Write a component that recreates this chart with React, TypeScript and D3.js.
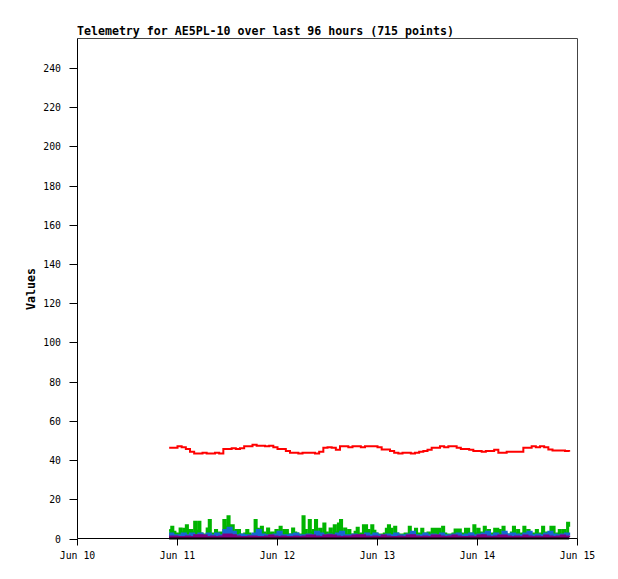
import React, { useEffect, useRef } from "react";
import * as d3 from "d3";

const W = 618;
const H = 579;

// plot frame (pixels)
const left = 77.5;
const right = 577.5;
const top = 38.5;
const bottom = 538.5;

const titleText = "Telemetry for AE5PL-10 over last 96 hours (715 points)";
const yLabel = "Values";
const yTicks = [0, 20, 40, 60, 80, 100, 120, 140, 160, 180, 200, 220, 240];
const xTickDays = [10, 11, 12, 13, 14, 15];

// samples start Jun 10 22:00, hourly (red, blue, purple) and half-hourly (green)
const startHour = 22;

const redValues = [
  46.3, 46.3, 47.1, 46.5, 45.6, 44.2, 43.4, 43.4, 43.7, 43.4, 43.4, 43.7, 43.4,
  45.6, 45.6, 46, 45.6, 46, 47.1, 47.1, 47.8, 47.3, 47.3, 47.1, 47.3, 46.5,
  45.6, 45.6, 44.6, 43.7, 43.7, 43.4, 43.7, 43.7, 43.7, 43.4, 44.2, 46.3, 46.5,
  46.3, 45.2, 47, 47.1, 46.5, 47.1, 47, 46.5, 47.1, 47.1, 47.1, 46.5, 45.4,
  45.4, 44.6, 43.7, 43.4, 43.7, 43.7, 43.4, 43.7, 44.2, 44.6, 45.2, 46.3, 46.3,
  47.1, 46.5, 47.1, 47.1, 46.3, 45.7, 45.7, 45.2, 44.6, 44.6, 44.2, 44.6, 44.6,
  45.2, 43.7, 43.7, 44.2, 44.2, 44.2, 44.2, 46.3, 46.3, 47.1, 46.5, 47.1, 46.5,
  45.4, 44.9, 44.9, 44.9, 44.6, 44.2,
];

const greenValues = [
  4.3, 6, 3.4, 2.5, 2, 5.1, 3, 5, 6.8, 4.3, 4.3, 3, 8.5, 4, 8.5, 2.5, 2, 1.5,
  5.1, 9.4, 2, 2.5, 4.3, 2, 3, 1.5, 9.4, 6, 11.4, 6.8, 6.8, 2.5, 4.3, 4.3, 2,
  1.5, 2.5, 4.3, 2.5, 1.5, 2, 9.4, 5, 2.5, 6, 3, 2, 5.1, 2.5, 3, 2, 4.3, 2.5,
  6, 2, 4.3, 4.3, 2, 2, 5.1, 3, 2.5, 1.5, 2, 11.4, 4.3, 2, 9.4, 3, 4.3, 9.4,
  3, 5, 2, 7.7, 3, 2, 5.1, 2.5, 6.8, 3, 7.7, 9.4, 3, 5.1, 2, 4.3, 2, 1.5, 3.4,
  5.5, 2, 2.5, 6.8, 6.8, 4.3, 2, 6.8, 4, 2.5, 2, 1.5, 2, 2.5, 5, 6.8, 5, 2, 6,
  2.5, 2, 1.5, 2, 2.5, 2, 6, 3, 2, 5, 2.5, 2, 5, 2.5, 2, 3, 2, 5, 5, 5, 5, 2.5,
  6, 2.5, 2, 1.5, 2, 2.5, 4.6, 4.6, 4.6, 2.5, 2, 5, 5, 2.5, 2, 6.8, 2.5, 5, 3,
  2.5, 6, 2, 4.3, 2, 2.5, 5, 5, 4.3, 2, 6, 2.5, 2, 2, 3, 6, 2.5, 4.3, 2, 2.5,
  6, 2.5, 4.3, 2, 2.5, 2, 4.3, 2, 2.5, 6, 2, 3, 2.5, 6, 6, 2, 2.5, 4.3, 2, 4.3,
  2.5, 8, 6,
];

const blueValues = [
  2.5, 1.7, 1.7, 2.5, 1.7, 2.5, 1.7, 2.5, 1.7, 2.5, 1.7, 2.5, 1.7, 4.3, 5.5,
  3.4, 1.7, 2, 1.7, 1.5, 2.5, 4.3, 2, 1.7, 1.7, 2, 3.4, 1.7, 1.7, 2, 2.5, 1.7,
  1.7, 2, 1.7, 3.4, 2.5, 1.7, 2, 1.7, 2.5, 3.4, 1.7, 1.7, 2, 1.7, 1.7, 2.5,
  1.7, 2.5, 1.7, 1.7, 2, 1.7, 2.5, 1.7, 1.7, 2, 3.4, 1.7, 1.7, 2.5, 1.7, 2,
  1.7, 2.5, 1.7, 1.7, 2, 2.5, 1.7, 2, 2.5, 1.7, 2, 2.5, 3.4, 1.7, 2.5, 1.7,
  3.4, 2, 2.5, 2, 1.7, 2.5, 3.4, 1.7, 2, 1.7, 2.5, 3.4, 2, 1.7, 2, 2.5, 1.7,
];

const purpleValues = [
  1, 1, 0.8, 0.8, 1, 0.8, 1.7, 1.7, 1.5, 0.8, 1, 0.8, 1, 2, 2, 1.7, 1, 0.8,
  0.8, 1, 1, 0.8, 0.8, 1, 1.5, 1, 0.8, 1, 0.8, 0.8, 1, 0.8, 1, 1.5, 1.5, 1,
  0.8, 1.5, 1.7, 1.5, 1, 0.8, 1, 1, 1.5, 1.7, 1.7, 1, 0.8, 1, 0.8, 1.5, 1, 0.8,
  0.8, 1, 0.8, 1.5, 1.7, 1, 0.8, 1, 0.8, 1.5, 1.5, 1, 0.8, 1, 1.5, 1, 0.8, 0.8,
  1, 0.8, 1.5, 1.7, 1, 0.8, 1, 1.5, 1.5, 1, 0.8, 1, 0.8, 1.5, 1, 0.8, 1, 0.8,
  1.5, 1, 0.8, 1, 1.5, 1, 0.8,
];

const blackValues = [0, 0];

const day = (d: number, h = 0) => new Date(Date.UTC(2024, 5, d, h));

const seriesTimes = (n: number, stepMin: number) =>
  d3.range(n).map((i) => new Date(day(10, startHour).getTime() + i * stepMin * 60000));

function Chart() {
  const ref = useRef<SVGSVGElement>(null);

  useEffect(() => {
    const svg = d3.select(ref.current);
    svg.selectAll("*").remove();

    const x = d3
      .scaleUtc()
      .domain([day(10), day(15)])
      .range([left, right]);
    const y = d3.scaleLinear().domain([0, 255]).range([bottom, top]);

    svg.append("rect").attr("width", W).attr("height", H).attr("fill", "#fff");

    // frame: top / right grey
    svg
      .append("path")
      .attr("d", `M${left},${top}H${right}V${bottom}`)
      .attr("fill", "none")
      .attr("stroke", "#444")
      .attr("stroke-width", 1);

    const mono = "'DejaVu Sans Mono', 'Liberation Mono', monospace";

    // title
    svg
      .append("text")
      .attr("x", 77)
      .attr("y", 35)
      .text(titleText)
      .style("font-family", mono)
      .style("font-weight", "bold")
      .style("font-size", "11.6px")
      .attr("fill", "#000");

    // y label
    svg
      .append("text")
      .attr("transform", "translate(35,289) rotate(-90)")
      .attr("text-anchor", "middle")
      .text(yLabel)
      .style("font-family", mono)
      .style("font-weight", "bold")
      .style("font-size", "11.6px");

    // y axis ticks
    const yg = svg.append("g");
    yTicks.forEach((v) => {
      yg.append("line")
        .attr("x1", left - 8)
        .attr("x2", left)
        .attr("y1", Math.round(y(v)) + 0.5)
        .attr("y2", Math.round(y(v)) + 0.5)
        .attr("stroke", "#000");
      yg.append("text")
        .attr("x", 61)
        .attr("y", Math.round(y(v)) + 0.5)
        .attr("dy", "0.35em")
        .attr("text-anchor", "end")
        .text(v)
        .style("font-family", mono)
        .style("font-size", "9.8px");
    });

    // x axis ticks
    const fmt = d3.utcFormat("%b %d");
    const xg = svg.append("g");
    xTickDays.forEach((d) => {
      const px = x(day(d));
      xg.append("line")
        .attr("x1", px)
        .attr("x2", px)
        .attr("y1", bottom)
        .attr("y2", bottom + 7)
        .attr("stroke", "#000");
      xg.append("text")
        .attr("x", px)
        .attr("y", 559)
        .attr("text-anchor", "middle")
        .text(fmt(day(d)))
        .style("font-family", mono)
        .style("font-size", "9.8px");
    });

    const hourly = seriesTimes(redValues.length, 60);
    const halfHourly = seriesTimes(greenValues.length, 30);
    const blackTimes = [hourly[0], hourly[hourly.length - 1]];

    // low series are dense enough to read as filled columns
    const series: { t: Date[]; v: number[]; color: string; fill: boolean }[] = [
      { t: hourly, v: redValues, color: "#ff0000", fill: false },
      { t: halfHourly, v: greenValues, color: "#00b400", fill: true },
      { t: hourly, v: blueValues, color: "#1468d2", fill: true },
      { t: hourly, v: purpleValues, color: "#80007f", fill: true },
      { t: blackTimes, v: blackValues, color: "#000", fill: false },
    ];

    series.forEach((s) => {
      if (s.fill) {
        const area = d3
          .area<number>()
          .x((_, i) => x(s.t[i]))
          .y0(y(0))
          .y1((d) => y(d))
          .curve(d3.curveStepAfter);
        svg.append("path").attr("d", area(s.v) as string).attr("fill", s.color);
      }
      const line = d3
        .line<number>()
        .x((_, i) => x(s.t[i]))
        .y((d) => y(d))
        .curve(d3.curveStepAfter);
      svg
        .append("path")
        .attr("d", line(s.v) as string)
        .attr("fill", "none")
        .attr("stroke", s.color)
        .attr("stroke-width", 2);
    });

    // left / bottom axes (black)
    svg
      .append("path")
      .attr("d", `M${left},${top}V${bottom}H${right}`)
      .attr("fill", "none")
      .attr("stroke", "#000")
      .attr("stroke-width", 1);
  }, []);

  return (
    <svg
      ref={ref}
      width={W}
      height={H}
      style={{ position: "absolute", left: 0, top: 0 }}
    />
  );
}

export default function App() {
  return <Chart />;
}
